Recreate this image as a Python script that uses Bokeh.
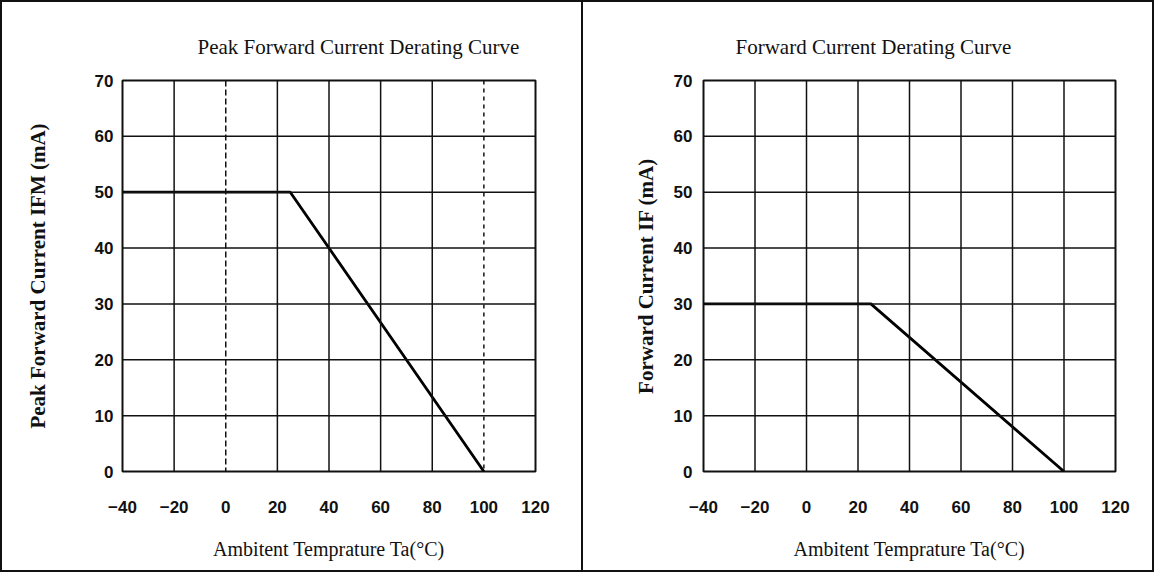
from bokeh.plotting import figure
from bokeh.layouts import row
from bokeh.models import Span, FixedTicker, Range1d, Title
from bokeh.embed import file_html
from bokeh.resources import INLINE

# ---- data ----
temp_ticks = [-40, -20, 0, 20, 40, 60, 80, 100, 120]
current_ticks = [0, 10, 20, 30, 40, 50, 60, 70]

peak_temp = [-40, 25, 100]
peak_current = [50, 50, 0]

fwd_temp = [-40, 25, 100]
fwd_current = [30, 30, 0]

titles = ["Peak Forward Current Derating Curve", "Forward Current Derating Curve"]
y_labels = ["Peak Forward Current IFM (mA)", "Forward Current IF (mA)"]
x_label = "Ambitent Temprature Ta(\u00b0C)"

SERIF = "Liberation Serif"
SANS = "Liberation Sans"


def make_panel(width, height, left, right, top, bottom, title, title_offset,
               ylabel, ylabel_standoff, ytick_standoff, xs, ys, dashed=None):
    p = figure(width=width, height=height, output_backend="svg",
               toolbar_location=None,
               x_range=Range1d(temp_ticks[0], temp_ticks[-1]),
               y_range=Range1d(current_ticks[0], current_ticks[-1]),
               min_border_left=left, min_border_right=right,
               min_border_top=top, min_border_bottom=bottom)
    p.title = Title(text=title, align="left", offset=title_offset,
                    text_font=SERIF, text_font_size="21px",
                    text_font_style="normal", text_color="#111111",
                    standoff=44)
    p.background_fill_color = "white"
    p.border_fill_color = "white"
    p.outline_line_color = "#111111"
    p.outline_line_width = 2
    p.xgrid.visible = False
    p.ygrid.visible = False

    for ax in (p.xaxis[0], p.yaxis[0]):
        ax.axis_line_color = None
        ax.major_tick_line_color = None
        ax.minor_tick_line_color = None
        ax.major_label_text_font = SANS
        ax.major_label_text_font_style = "bold"
        ax.major_label_text_font_size = "17px"
        ax.major_label_text_color = "#111111"
        ax.axis_label_text_color = "#111111"

    p.xaxis.ticker = FixedTicker(ticks=temp_ticks)
    p.yaxis.ticker = FixedTicker(ticks=current_ticks)
    p.xaxis.major_label_overrides = {t: ("\u2212" + str(-t) if t < 0 else str(t)) for t in temp_ticks}
    p.xaxis.major_label_standoff = 23
    p.yaxis.major_label_standoff = ytick_standoff

    p.xaxis.axis_label = x_label
    p.xaxis.axis_label_text_font = SERIF
    p.xaxis.axis_label_text_font_style = "normal"
    p.xaxis.axis_label_text_font_size = "20px"
    p.xaxis.axis_label_standoff = 22

    p.yaxis.axis_label = ylabel
    p.yaxis.axis_label_text_font = SERIF
    p.yaxis.axis_label_text_font_style = "bold"
    p.yaxis.axis_label_text_font_size = "21px"
    p.yaxis.axis_label_standoff = ylabel_standoff

    dashed = dashed or {}
    for t in temp_ticks[1:-1]:
        p.add_layout(Span(location=t, dimension="height", line_color="#111111",
                          line_width=1.5, line_dash=dashed.get(t, "solid")))
    for c in current_ticks[1:-1]:
        p.add_layout(Span(location=c, dimension="width", line_color="#111111",
                          line_width=1.5))

    p.line(xs, ys, line_color="#000000", line_width=2.8)
    return p


p1 = make_panel(581, 568, 120, 48, 78, 96, titles[0], 75, y_labels[0], 42, 3,
                peak_temp, peak_current, dashed={0: "6 3", 100: "4 4"})
p1.styles = {"border-right": "2px solid #111111"}

p2 = make_panel(569, 568, 120, 37, 78, 99, titles[1], 32, y_labels[1], 13, 5,
                fwd_temp, fwd_current)

layout = row(p1, p2)
layout.styles = {"border": "2px solid #111111"}

open("out.html", "w").write(file_html(layout, INLINE))
